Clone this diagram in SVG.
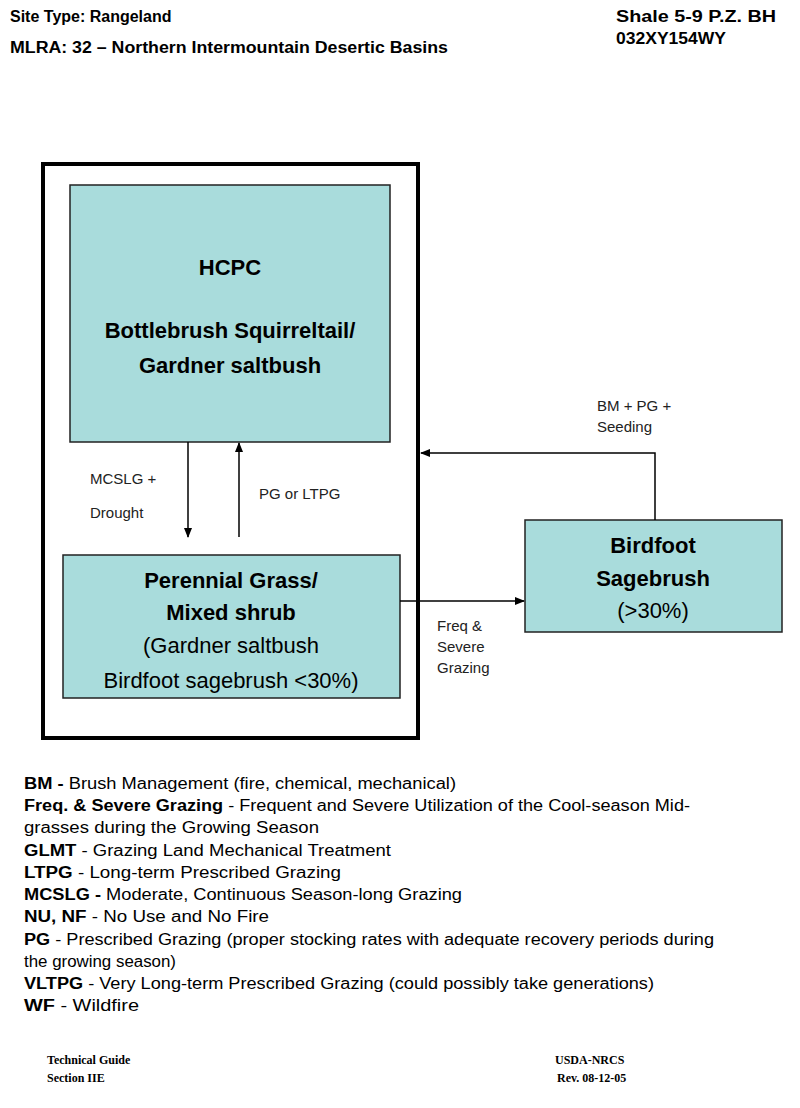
<svg xmlns="http://www.w3.org/2000/svg" width="800" height="1108" viewBox="0 0 800 1108">
<defs>
<marker id="ah" markerWidth="10" markerHeight="8" refX="9" refY="4" orient="auto" markerUnits="userSpaceOnUse"><path d="M0,0 L10,4 L0,8 z" fill="#000"/></marker>
<style>
text{font-family:"Liberation Sans",Arial,sans-serif;fill:#000}
.h{font-size:16px;font-weight:bold}
.box{fill:#a9dcdc;stroke:#222;stroke-width:1.5}
.t{font-size:22px;text-anchor:middle}
.b{font-weight:bold}
.lab{font-size:15px;fill:#222}
.lg{font-size:16px}
.ft{font-family:"Liberation Serif","Times New Roman",serif;font-size:12px;font-weight:bold}
.c{stroke:#000;stroke-width:1.5;fill:none}
</style>
</defs>
<rect width="800" height="1108" fill="#fff"/>
<text class="h" x="10" y="22">Site Type:  Rangeland</text>
<text class="h" x="10" y="53" textLength="438" lengthAdjust="spacingAndGlyphs">MLRA: 32 – Northern Intermountain Desertic Basins</text>
<text class="h" x="616" y="22" textLength="160" lengthAdjust="spacingAndGlyphs">Shale 5-9 P.Z. BH</text>
<text class="h" x="616" y="44" textLength="110" lengthAdjust="spacingAndGlyphs">032XY154WY</text>
<rect x="43" y="164" width="375" height="574" fill="none" stroke="#000" stroke-width="4"/>
<g id="hcpc"><rect class="box" x="70" y="185" width="320" height="257"/>
<text class="t b" x="230" y="275">HCPC</text>
<text class="t b" x="230" y="338">Bottlebrush Squirreltail/</text>
<text class="t b" x="230" y="373">Gardner saltbush</text></g>
<g id="perennial"><rect class="box" x="63" y="555" width="337" height="143"/>
<text class="t b" x="231" y="588">Perennial Grass/</text>
<text class="t b" x="231" y="620">Mixed shrub</text>
<text class="t" x="231" y="653">(Gardner saltbush</text>
<text class="t" x="231" y="688">Birdfoot sagebrush &lt;30%)</text></g>
<g id="birdfoot"><rect class="box" x="525" y="520" width="257" height="112"/>
<text class="t b" x="653" y="553">Birdfoot</text>
<text class="t b" x="653" y="586">Sagebrush</text>
<text class="t" x="653" y="618">(&gt;30%)</text></g>
<g id="connectors">
<line class="c" x1="188" y1="442" x2="188" y2="537" marker-end="url(#ah)"/>
<line class="c" x1="239" y1="537" x2="239" y2="443" marker-end="url(#ah)"/>
<line class="c" x1="400" y1="601" x2="524" y2="601" marker-end="url(#ah)"/>
<polyline class="c" points="655,520 655,453 421,453" marker-end="url(#ah)"/>
<text class="lab" x="90" y="484">MCSLG +</text>
<text class="lab" x="90" y="518">Drought</text>
<text class="lab" x="259" y="499">PG or  LTPG</text>
<text class="lab" x="597" y="411">BM + PG +</text>
<text class="lab" x="597" y="432">Seeding</text>
<text class="lab" x="437" y="631">Freq &amp;</text>
<text class="lab" x="437" y="652">Severe</text>
<text class="lab" x="437" y="673">Grazing</text>
</g>
<g class="lg">
<text x="24" y="789" textLength="432" lengthAdjust="spacingAndGlyphs"><tspan class="b">BM - </tspan>Brush Management (fire, chemical, mechanical)</text>
<text x="24" y="811" textLength="666" lengthAdjust="spacingAndGlyphs"><tspan class="b">Freq. &amp; Severe Grazing</tspan> - Frequent and Severe Utilization of the Cool-season Mid-</text>
<text x="24" y="833" textLength="295" lengthAdjust="spacingAndGlyphs">grasses during the Growing Season</text>
<text x="24" y="856" textLength="367" lengthAdjust="spacingAndGlyphs"><tspan class="b">GLMT</tspan> - Grazing Land Mechanical Treatment</text>
<text x="24" y="878" textLength="317" lengthAdjust="spacingAndGlyphs"><tspan class="b">LTPG</tspan> - Long-term Prescribed Grazing</text>
<text x="24" y="900" textLength="438" lengthAdjust="spacingAndGlyphs"><tspan class="b">MCSLG - </tspan>Moderate, Continuous Season-long Grazing</text>
<text x="24" y="922" textLength="245" lengthAdjust="spacingAndGlyphs"><tspan class="b">NU, NF</tspan> - No Use and No Fire</text>
<text x="24" y="945" textLength="690" lengthAdjust="spacingAndGlyphs"><tspan class="b">PG</tspan> - Prescribed Grazing (proper stocking rates with adequate recovery periods during</text>
<text x="24" y="967" textLength="152" lengthAdjust="spacingAndGlyphs">the growing season)</text>
<text x="24" y="989" textLength="630" lengthAdjust="spacingAndGlyphs"><tspan class="b">VLTPG</tspan> - Very Long-term Prescribed Grazing (could possibly take generations)</text>
<text x="24" y="1011" textLength="115" lengthAdjust="spacingAndGlyphs"><tspan class="b">WF</tspan> - Wildfire</text>
</g>
<text class="ft" x="47" y="1064">Technical Guide</text>
<text class="ft" x="47" y="1082">Section IIE</text>
<text class="ft" x="555" y="1064">USDA-NRCS</text>
<text class="ft" x="557" y="1082">Rev. 08-12-05</text>
</svg>
